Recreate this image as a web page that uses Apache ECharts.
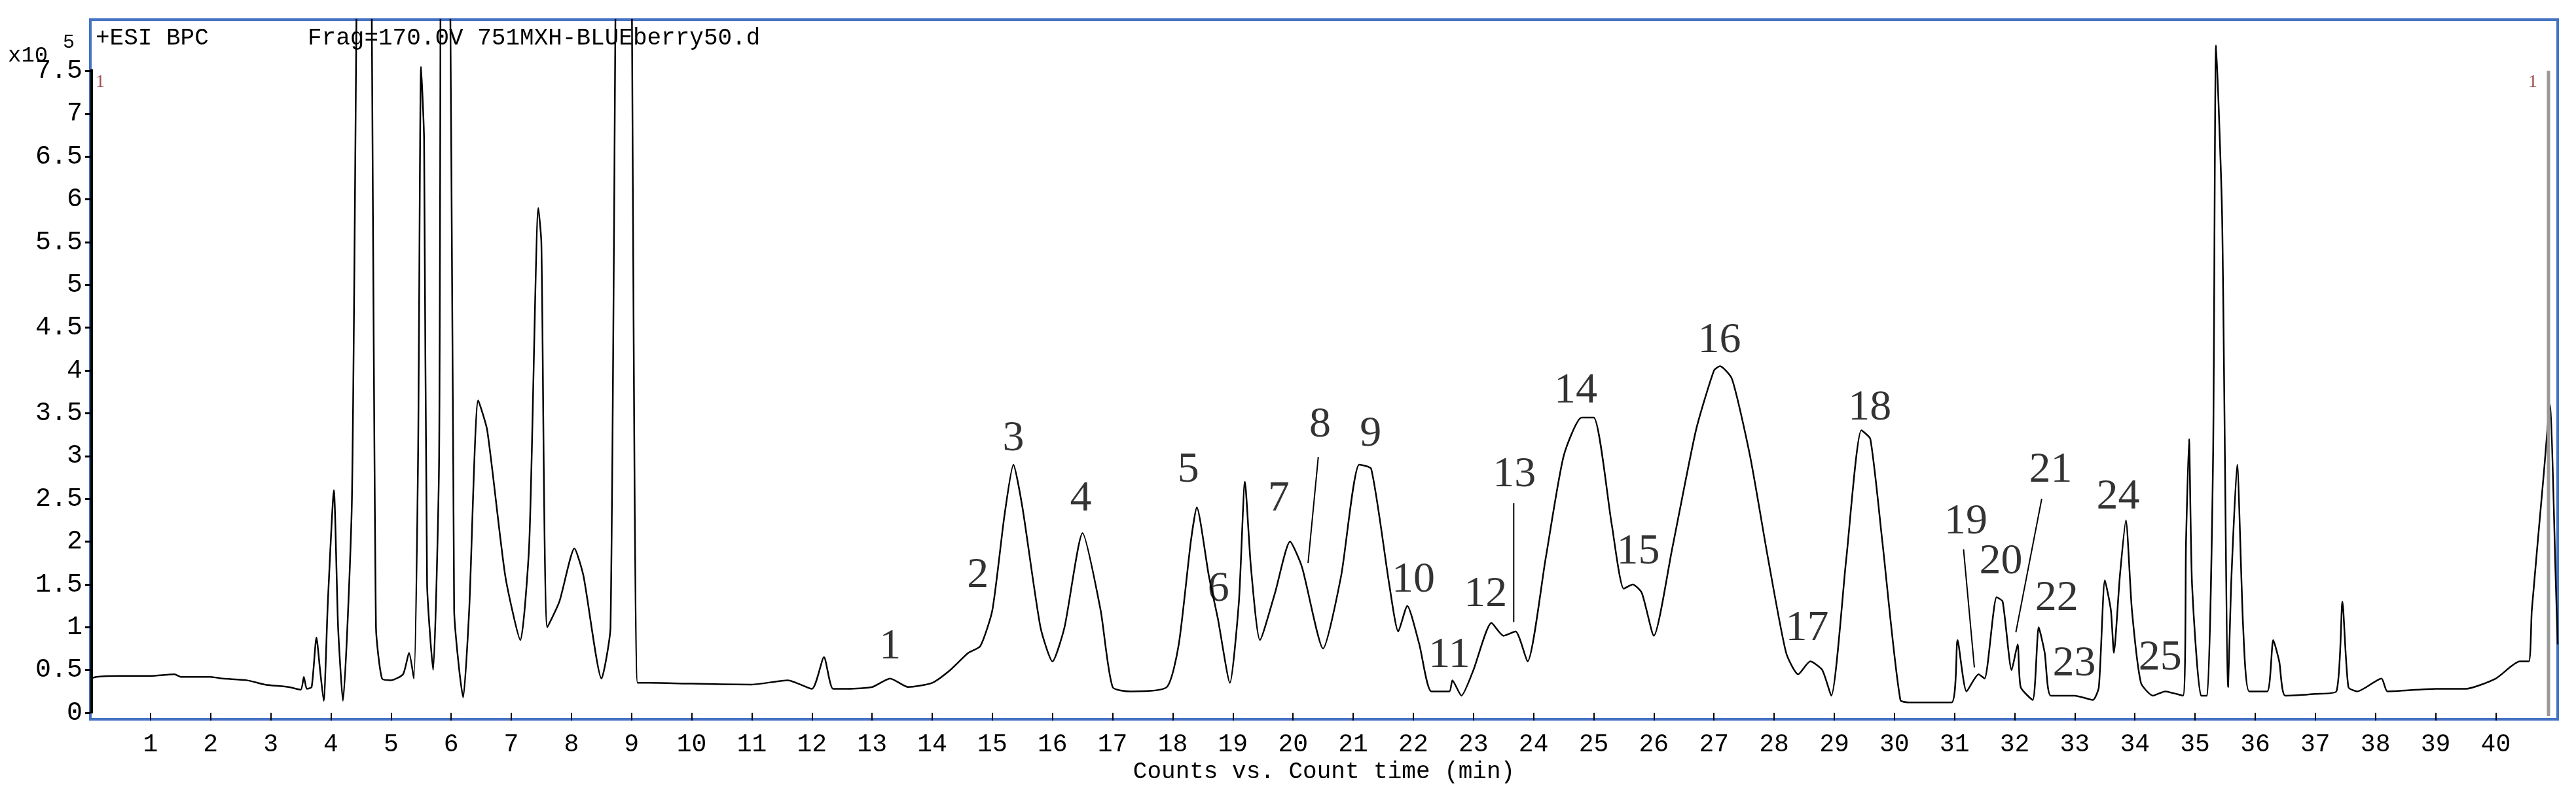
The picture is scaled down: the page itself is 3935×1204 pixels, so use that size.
<!DOCTYPE html>
<html>
<head>
<meta charset="utf-8">
<script src="https://cdn.jsdelivr.net/npm/echarts@6/dist/echarts.min.js"></script>
<style>
  html, body { margin: 0; padding: 0; background: #fff; }
  #chart { width: 3935px; height: 1204px; }
</style>
</head>
<body>
<div id="chart"></div>
<script>
// retention time (min) and intensity (x10^5)
const times = [
  0, 0.1, 0.5, 1.0, 1.4, 1.5, 2.0, 2.2, 2.6, 2.9, 3.3, 3.5, 3.55, 3.6, 3.68, 3.76, 3.82, 3.88, 3.95, 4.05, 4.12, 4.2,
  4.35, 4.5, 4.62, 4.75, 4.85, 5.0, 5.2, 5.3, 5.38, 5.45, 5.5, 5.55, 5.6, 5.7, 5.8, 5.85, 5.95, 6.05, 6.2, 6.3, 6.45, 6.6,
  6.9, 7.15, 7.3, 7.45, 7.5, 7.6, 7.8, 8.05, 8.2, 8.5, 8.65, 8.8, 8.95, 9.1, 9.3, 10.0, 11.0, 11.6, 12.0, 12.2, 12.35,
  12.6, 13.0, 13.3, 13.6, 14.0, 14.3, 14.6, 14.8, 15.0, 15.2, 15.35, 15.5, 15.8, 16.0, 16.2, 16.5, 16.8, 17.0, 17.3,
  17.9, 18.1, 18.3, 18.4, 18.6, 18.75, 18.95, 19.1, 19.2, 19.3, 19.45, 19.7, 19.95, 20.15, 20.5, 20.8, 21.1, 21.3,
  21.6, 21.75, 21.9, 22.1, 22.3, 22.6, 22.65, 22.8, 23.0, 23.3, 23.5, 23.7, 23.9, 24.2, 24.5, 24.8, 25.0, 25.3, 25.5,
  25.65, 25.8, 26.0, 26.3, 26.7, 27.0, 27.1, 27.3, 27.6, 27.9, 28.2, 28.4, 28.6, 28.8, 28.95, 29.2, 29.45, 29.6, 29.8,
  30.1, 30.3, 30.95, 31.05, 31.2, 31.4, 31.5, 31.7, 31.8, 31.95, 32.05, 32.1, 32.3, 32.4, 32.5, 32.6, 33.0, 33.3, 33.4,
  33.5, 33.6, 33.65, 33.75, 33.85, 33.95, 34.1, 34.3, 34.5, 34.8, 34.85, 34.9, 34.95, 35.1, 35.2, 35.3, 35.35, 35.45,
  35.55, 35.6, 35.7, 35.8, 35.9, 36.2, 36.3, 36.4, 36.5, 37.0, 37.35, 37.45, 37.55, 37.7, 38.1, 38.2, 39.0, 39.5, 40.0,
  40.4, 40.55, 40.6, 40.8, 40.9, 41.0, 41.03
];
const intensity = [
  0.40, 0.42, 0.43, 0.43, 0.45, 0.42, 0.42, 0.40, 0.38, 0.33, 0.30, 0.27, 0.42, 0.28, 0.30, 0.88, 0.50, 0.14, 1.3, 2.6, 1.0, 0.14,
  2.5, 12, 12, 1.0, 0.4, 0.38, 0.45, 0.7, 0.4, 3.0, 7.55, 6.7, 1.5, 0.5, 3.0, 12, 12, 1.2, 0.18, 1.2, 3.65, 3.3,
  1.6, 0.85, 2.0, 5.9, 5.5, 1.0, 1.3, 1.92, 1.6, 0.4, 1.0, 12, 12, 0.35, 0.35, 0.34, 0.33, 0.38, 0.28, 0.65, 0.28,
  0.28, 0.30, 0.40, 0.30, 0.35, 0.50, 0.70, 0.78, 1.2, 2.3, 2.9, 2.4, 1.0, 0.6, 1.0, 2.1, 1.2, 0.3, 0.25,
  0.30, 0.8, 2.0, 2.4, 1.6, 1.1, 0.35, 1.3, 2.7, 1.7, 0.85, 1.4, 2.0, 1.7, 0.75, 1.6, 2.9, 2.85,
  1.5, 0.95, 1.25, 0.8, 0.25, 0.25, 0.38, 0.2, 0.5, 1.05, 0.9, 0.95, 0.6, 1.8, 3.0, 3.45, 3.45, 2.2, 1.45,
  1.5, 1.4, 0.9, 1.9, 3.3, 4.0, 4.05, 3.9, 3.0, 1.8, 0.7, 0.45, 0.6, 0.5, 0.2, 1.8, 3.3, 3.2, 2.0,
  0.15, 0.12, 0.12, 0.85, 0.25, 0.45, 0.4, 1.35, 1.3, 0.5, 0.8, 0.3, 0.15, 1.0, 0.7, 0.2, 0.2, 0.15, 0.3,
  1.55, 1.2, 0.7, 1.6, 2.25, 1.2, 0.35, 0.2, 0.25, 0.2, 2.0, 3.2, 1.5, 0.2, 0.2, 3.0, 7.8, 5.8,
  0.3, 1.5, 2.9, 1.0, 0.25, 0.25, 0.85, 0.6, 0.2, 0.22, 0.25, 1.3, 0.3, 0.25, 0.4, 0.25, 0.28, 0.28, 0.4,
  0.6, 0.6, 1.2, 2.8, 3.6, 1.5, 0.8
];

// peak numbers and where they sit
const peakNames = ['1','2','3','4','5','6','7','8','9','10','11','12','13','14','15','16','17','18','19','20','21','22','23','24','25'];
const peakX = [13.3, 14.76, 15.35, 16.47, 18.26, 18.76, 19.76, 20.45, 21.29, 22.0, 22.6, 23.2, 23.68, 24.7, 25.74, 27.09, 28.55, 29.59, 31.19, 31.77, 32.6, 32.7, 32.99, 33.72, 34.42];
const peakY = [0.77, 1.6, 3.2, 2.5, 2.83, 1.44, 2.5, 3.36, 3.25, 1.55, 0.67, 1.38, 2.78, 3.76, 1.88, 4.35, 0.98, 3.56, 2.23, 1.76, 2.83, 1.33, 0.57, 2.52, 0.64];

// leader lines [x1, y1, x2, y2]
const leaders = [
  [20.42, 2.99, 20.25, 1.75],
  [23.67, 2.45, 23.67, 1.06],
  [31.15, 1.91, 31.33, 0.53],
  [32.45, 2.5, 32.02, 0.94]
];

const yTicks = [0, 0.5, 1, 1.5, 2, 2.5, 3, 3.5, 4, 4.5, 5, 5.5, 6, 6.5, 7, 7.5];
const xTicks = [];
for (let i = 1; i <= 40; i++) xTicks.push(i);

const mono = 'Liberation Mono';
const chart = echarts.init(document.getElementById('chart'));

const series = [
  {
    type: 'line',
    data: times.map((t, i) => [t, intensity[i]]),
    showSymbol: false,
    smooth: 0.2,
    clip: true,
    lineStyle: { color: '#000', width: 2.5 },
    z: 3
  },
  {
    type: 'scatter',
    data: peakNames.map((n, i) => ({ name: n, value: [peakX[i], peakY[i]] })),
    symbolSize: 0,
    label: {
      show: true, position: 'inside', formatter: '{b}',
      fontFamily: 'Liberation Serif', fontSize: 66, color: '#000'
    },
    z: 5
  }
];
leaders.forEach(l => {
  series.push({
    type: 'line',
    data: [[l[0], l[1]], [l[2], l[3]]],
    showSymbol: false,
    lineStyle: { color: '#000', width: 2 },
    z: 4
  });
});

chart.setOption({
  animation: false,
  backgroundColor: '#fff',
  grid: {
    left: 138, right: 28, top: 30, bottom: 105,
    show: true, borderColor: '#4472c4', borderWidth: 4
  },
  xAxis: {
    type: 'value', min: 0, max: 41.03,
    axisLine: { show: false },
    splitLine: { show: false },
    axisTick: { show: true, customValues: xTicks, length: 12, inside: false, lineStyle: { color: '#000', width: 2 } },
    axisLabel: { customValues: xTicks, fontFamily: mono, fontSize: 38, color: '#000', margin: 20 },
    name: 'Counts vs. Count time (min)',
    nameLocation: 'middle', nameGap: 58,
    nameTextStyle: { fontFamily: mono, fontSize: 36, color: '#000' }
  },
  yAxis: {
    type: 'value', min: -0.076, max: 8.1,
    axisLine: { show: false },
    splitLine: { show: false },
    axisTick: { show: true, customValues: yTicks, length: 8, lineStyle: { color: '#000', width: 3 } },
    axisLabel: { customValues: yTicks, fontFamily: mono, fontSize: 40, color: '#000', margin: 12 }
  },
  graphic: [
    { type: 'line', shape: { x1: 140, y1: 106, x2: 140, y2: 1090 }, style: { stroke: '#000', lineWidth: 4 }, z: 10 },
    { type: 'line', shape: { x1: 3893, y1: 108, x2: 3893, y2: 1094 }, style: { stroke: '#999', lineWidth: 5 }, z: 10 },
    { type: 'text', left: 146, top: 40, style: { text: '+ESI BPC', font: '36px "Liberation Mono"', fill: '#000' } },
    { type: 'text', left: 470, top: 40, style: { text: 'Frag=170.0V 751MXH-BLUEberry50.d', font: '36px "Liberation Mono"', fill: '#000' } },
    { type: 'text', left: 12, top: 68, style: { text: 'x10', font: '34px "Liberation Mono"', fill: '#000' } },
    { type: 'text', left: 96, top: 50, style: { text: '5', font: '30px "Liberation Mono"', fill: '#000' } },
    { type: 'text', left: 146, top: 112, style: { text: '1', font: '28px "Liberation Serif"', fill: '#a05050' } },
    { type: 'text', left: 3862, top: 112, style: { text: '1', font: '28px "Liberation Serif"', fill: '#a05050' } }
  ],
  series: series
});
</script>
</body>
</html>
